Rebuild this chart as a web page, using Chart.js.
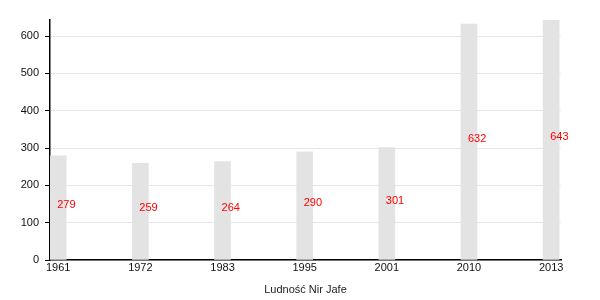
<!DOCTYPE html>
<html>
<head>
<meta charset="utf-8">
<script src="https://cdn.jsdelivr.net/npm/chart.js@4"></script>
<style>
  html, body { margin: 0; padding: 0; background: #fff; }
  #wrap { width: 600px; height: 300px; }
</style>
</head>
<body>
<div id="wrap"><canvas id="popChart" width="600" height="300"></canvas></div>
<script>
// Population data
const years = ['1961', '1972', '1983', '1995', '2001', '2010', '2013'];
const population = [279, 259, 264, 290, 301, 632, 643];
const yTicks = [0, 100, 200, 300, 400, 500, 600];
const axisTitle = 'Ludność Nir Jafe';

Chart.defaults.font.family = '"Liberation Sans", Arial, sans-serif';
Chart.defaults.font.size = 11;
Chart.defaults.color = '#222';

// Draw the value in red at the middle of each bar
const valueLabels = {
  id: 'valueLabels',
  afterDatasetsDraw(chart) {
    const ctx = chart.ctx;
    const meta = chart.getDatasetMeta(0);
    ctx.save();
    ctx.fillStyle = '#ff0000';
    ctx.font = '11px "Liberation Sans", Arial, sans-serif';
    ctx.textAlign = 'left';
    ctx.textBaseline = 'middle';
    meta.data.forEach((bar, i) => {
      const mid = (bar.y + bar.base) / 2 - 3;
      ctx.fillText(String(population[i]), bar.x - 1, mid);
    });
    ctx.restore();
  }
};

const ctx = document.getElementById('popChart').getContext('2d');
const popChart = new Chart(ctx, {
  type: 'bar',
  data: {
    datasets: [{
      data: population.map((v, i) => ({ x: i, y: v })),
      backgroundColor: '#e3e3e3',
      borderWidth: 0,
      barThickness: 16
    }]
  },
  options: {
    responsive: false,
    animation: false,
    layout: { padding: { top: 20, right: 39, left: 0, bottom: 0 } },
    plugins: {
      legend: { display: false },
      tooltip: { enabled: false }
    },
    scales: {
      x: {
        type: 'linear',
        offset: false,
        min: -0.1,
        max: 6.12,
        afterBuildTicks: scale => { scale.ticks = years.map((y, i) => ({ value: i })); },
        afterFit: scale => { scale.height = 40; },
        ticks: {
          autoSkip: false,
          maxRotation: 0,
          padding: 1,
          color: '#111',
          callback: v => years[v]
        },
        grid: { display: false, drawTicks: false, tickLength: 3 },
        border: { color: '#000', width: 1.5 },
        title: {
          display: true,
          text: axisTitle,
          color: '#222',
          padding: { top: 2, bottom: 3 }
        }
      },
      y: {
        min: 0,
        max: 643,
        afterBuildTicks: scale => { scale.ticks = yTicks.map(v => ({ value: v })); },
        afterFit: scale => { scale.width = 50; },
        ticks: { color: '#111', padding: 6 },
        grid: { color: '#e6e6e6', tickColor: '#000', tickLength: 5 },
        border: { color: '#000', width: 1.5 }
      }
    }
  },
  plugins: [valueLabels]
});
</script>
</body>
</html>
